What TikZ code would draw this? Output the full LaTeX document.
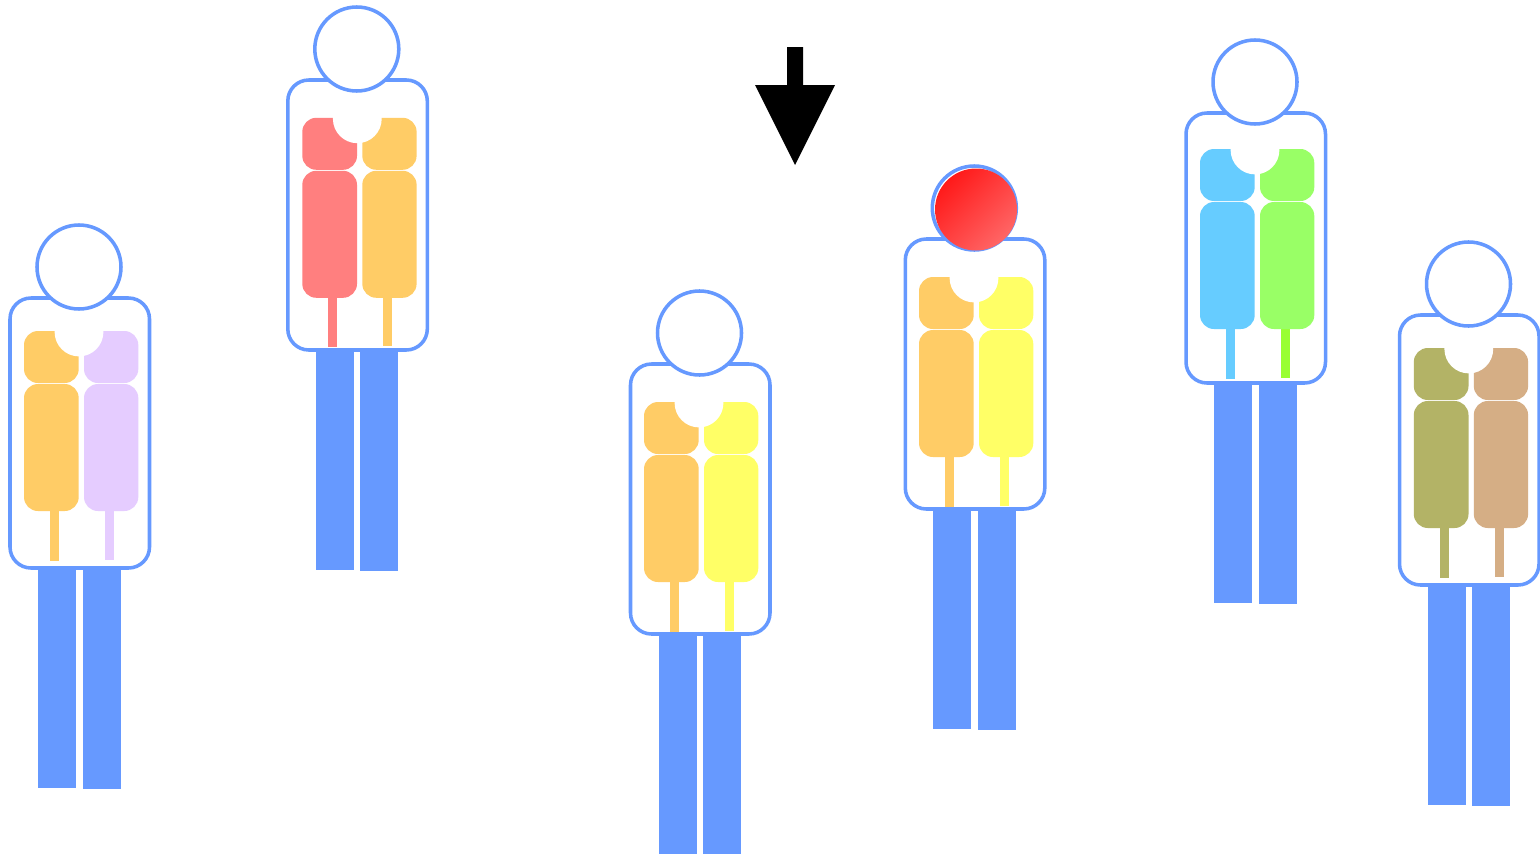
\documentclass[tikz,border=0pt]{standalone}
\definecolor{blu}{HTML}{6699FF}
\definecolor{org}{HTML}{FFCC66}
\definecolor{lil}{HTML}{E5CCFF}
\definecolor{rd}{HTML}{FF7F7F}
\definecolor{yel}{HTML}{FFFF66}
\definecolor{sky}{HTML}{66CCFF}
\definecolor{grn}{HTML}{99FF66}
\definecolor{grs}{HTML}{99FF33}
\definecolor{olv}{HTML}{B3B366}
\definecolor{tan}{HTML}{D5AE85}
\tikzset{
  outline/.style={draw=blu,line width=2.65pt,fill=white},
  leg/.style={fill=blu},
}
% \person{dx}{dy}{inner dx}{inner dy}{left colour}{right colour}{left stem colour}{right stem colour}
\newcommand{\person}[8]{%
  \begin{scope}[shift={(#1,#2)}]
    \fill[leg] (38,570) rectangle (76,788);
    \fill[leg] (82.6,570) rectangle (120.6,789);
    \draw[outline,rounded corners=15.75pt] (10,298) rectangle (149.5,568);
    \draw[outline] (79,267) circle[radius=42];
    \begin{scope}[shift={(#3,#4)}]
      \fill[#7] (50,505) rectangle (59,560.5);
      \fill[#8] (105,505) rectangle (114,559.5);
      \fill[#5,rounded corners=10.5pt] (24,331) rectangle (78.7,383);
      \fill[#5,rounded corners=10.5pt] (24,384) rectangle (78.7,511);
      \fill[#6,rounded corners=10.5pt] (84,331) rectangle (138.3,383);
      \fill[#6,rounded corners=10.5pt] (84,384) rectangle (138.3,511);
      \fill[white] (54.6,330) -- (103.4,330) -- (103.4,332) arc[start angle=0,end angle=180,radius=24.4] -- cycle;
    \end{scope}
  \end{scope}}
\begin{document}
\begin{tikzpicture}[x=0.75pt,y=-0.75pt]
\useasboundingbox (0,0) rectangle (1540,853);
\begin{scope}
\clip (0,0) rectangle (1540,853);
\person{0}{0}{0}{0}{org}{lil}{org}{lil}
\person{277.8}{-218}{0.5}{4.8}{rd}{org}{rd}{org}
\person{620.5}{66}{-0.5}{5}{org}{yel}{org}{yel}
\person{895.3}{-59}{-0.3}{5}{org}{yel}{org}{yel}
\person{1176}{-185}{0}{3}{sky}{grn}{sky}{grs}
\person{1389.5}{17}{0.3}{0}{olv}{tan}{olv}{tan}
\end{scope}
\shade[top color=red!90!white,bottom color=rd!80!red,shading angle=45] (976,209.5) circle[radius=41];
\fill[black] (787,47) -- (803,47) -- (803,85) -- (835,85) -- (795,165) -- (755,85) -- (787,85) -- cycle;
\end{tikzpicture}
\end{document}
